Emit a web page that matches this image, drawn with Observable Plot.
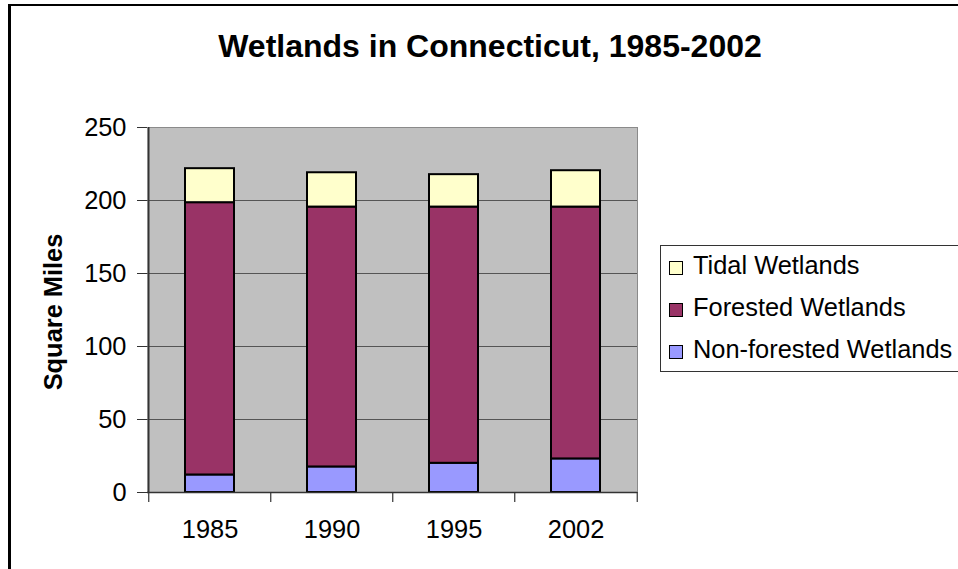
<!DOCTYPE html>
<html>
<head>
<meta charset="utf-8">
<script src="https://cdn.jsdelivr.net/npm/d3@7"></script>
<script src="https://cdn.jsdelivr.net/npm/@observablehq/plot@0.6"></script>
<style>
  html, body { margin: 0; padding: 0; background: #fff; }
  #wrap { position: relative; width: 958px; height: 569px; overflow: hidden; font-family: Arial, "Liberation Sans", sans-serif; color: #000; }
  #wrap svg { position: absolute; left: 0; top: 0; }
  .abs { position: absolute; white-space: nowrap; }
</style>
</head>
<body>
<div id="wrap"></div>
<script>
// ---- data ----
const years = ["1985", "1990", "1995", "2002"];
const nonForested = [12, 17.5, 20, 23];
const forested = [186.5, 178, 175.5, 172.5];
const tidal = [23.3, 23.5, 22.2, 24.9];
const seriesNames = ["Non-forested Wetlands", "Forested Wetlands", "Tidal Wetlands"];
const seriesColors = ["#9999FF", "#993366", "#FFFFCC"];
const yTicks = [0, 50, 100, 150, 200, 250];
const title = "Wetlands in Connecticut, 1985-2002";
const yLabel = "Square Miles";

const seriesValues = [nonForested, forested, tidal];
const data = years.flatMap((year, i) =>
  seriesNames.map((s, k) => ({year, series: s, value: seriesValues[k][i]}))
);

// ---- layout ----
const W = 958, H = 569, ML = 147, MR = 321, MT = 127, MB = 77;
const STEP = (W - ML - MR) / years.length;
const FS = 25.4;

const chart = Plot.plot({
  width: W, height: H,
  marginLeft: ML, marginRight: MR, marginTop: MT, marginBottom: MB,
  style: {fontFamily: "Arial, 'Liberation Sans', sans-serif", fontSize: FS + "px", color: "#000", background: "transparent", overflow: "visible"},
  x: {domain: years, paddingInner: 0.6, paddingOuter: 0.3, label: null},
  y: {domain: [0, 250], label: null},
  color: {domain: seriesNames, range: seriesColors},
  marks: [
    Plot.frame({fill: "#C0C0C0", stroke: "#8a8a8a"}),
    Plot.ruleY(yTicks.filter(v => v > 0 && v < 250), {stroke: "#555", strokeWidth: 1.2}),
    Plot.barY(data, {x: "year", y: "value", fill: "series", order: seriesNames, stroke: "#000", strokeWidth: 2}),
    // axis lines
    Plot.ruleY([0], {stroke: "#333", strokeWidth: 1.5}),
    Plot.ruleX([years[0]], {x: d => d, dx: -STEP / 2, stroke: "#333", strokeWidth: 1.5}),
    // category boundary ticks
    Plot.ruleX(years, {x: d => d, y1: 0, y2: 0, insetTop: 10, dx: -STEP / 2, stroke: "#333", strokeWidth: 1.2}),
    Plot.ruleX([years[years.length - 1]], {x: d => d, y1: 0, y2: 0, insetTop: 10, dx: STEP / 2, stroke: "#333", strokeWidth: 1.2}),
    Plot.axisX({tickSize: 0, tickPadding: 27, fontSize: FS, label: null}),
    Plot.axisY({ticks: yTicks, tickSize: 10, tickPadding: 11, fontSize: FS, label: null, stroke: "#333"})
  ]
});

const wrap = document.getElementById("wrap");
wrap.appendChild(chart);

// outer chart border (cropped on right and bottom)
const border = document.createElement("div");
border.className = "abs";
Object.assign(border.style, {left: "8px", top: "4px", width: "1000px", height: "700px", borderLeft: "3px solid #000", borderTop: "2px solid #000"});
wrap.appendChild(border);

// title
const t = document.createElement("div");
t.className = "abs";
t.textContent = title;
Object.assign(t.style, {left: "0px", width: "980px", textAlign: "center", top: "29.9px", fontSize: "32px", lineHeight: "32px", fontWeight: "bold"});
wrap.appendChild(t);

// y label
const yl = document.createElement("div");
yl.className = "abs";
yl.textContent = yLabel;
Object.assign(yl.style, {left: "53.5px", top: "311.5px", fontSize: FS + "px", lineHeight: FS + "px", fontWeight: "bold", transform: "translate(-50%,-50%) rotate(-90deg)"});
wrap.appendChild(yl);

// legend
const lg = document.createElement("div");
lg.className = "abs";
Object.assign(lg.style, {left: "660px", top: "245px", width: "400px", height: "125px", border: "1px solid #333", background: "#fff"});
wrap.appendChild(lg);
const legendOrder = [2, 1, 0];
legendOrder.forEach((k, i) => {
  const base = 275 + 42 * i;
  const sw = document.createElement("div");
  sw.className = "abs";
  Object.assign(sw.style, {left: "669px", top: (base - 14) + "px", width: "12px", height: "12px", border: "1.5px solid #000", background: seriesColors[k]});
  wrap.appendChild(sw);
  const tx = document.createElement("div");
  tx.className = "abs";
  tx.textContent = seriesNames[k];
  Object.assign(tx.style, {left: "693px", top: (base - 0.8465 * FS) + "px", fontSize: FS + "px", lineHeight: FS + "px"});
  wrap.appendChild(tx);
});
</script>
</body>
</html>
